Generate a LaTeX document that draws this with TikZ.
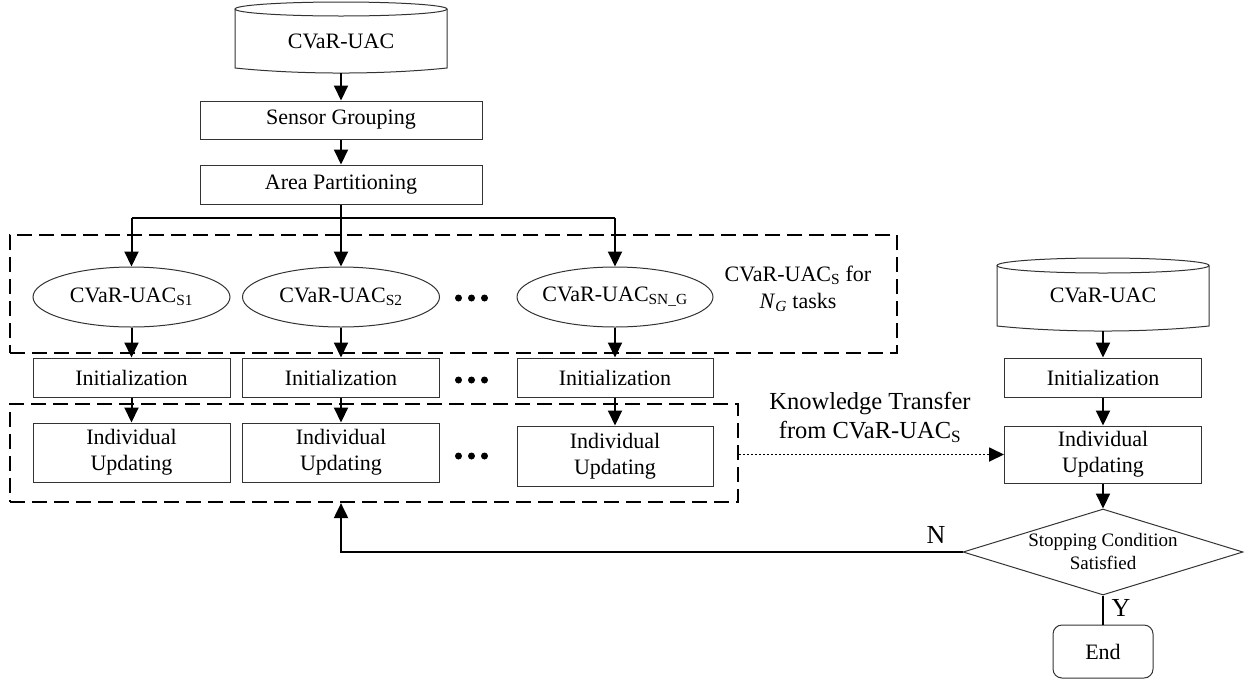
\documentclass[tikz,border=0pt]{standalone}
\usepackage{fontspec}
\setmainfont{Liberation Serif}
\usetikzlibrary{arrows.meta,shapes.geometric}
\begin{document}
\begin{tikzpicture}[x=1pt,y=-1pt,
  txt/.style={font=\fontsize{22}{26}\selectfont, align=center, inner sep=0pt},
  box/.style={txt, draw=black!80, line width=1pt, rectangle},
  ell/.style={txt, draw=black!80, line width=1pt, ellipse, minimum width=197pt, minimum height=60pt},
  arr/.style={line width=2pt, -{Triangle[width=14pt,length=15pt]}},
  ln/.style={line width=2pt},
  dotarr/.style={line width=1.8pt, dash pattern=on 2pt off 2pt, -{Triangle[width=14pt,length=15pt]}},
  grp/.style={draw, line width=2.2pt, dash pattern=on 15pt off 7pt, inner sep=0pt},
  decision/.style={draw=black!80, line width=1pt, diamond, inner sep=0pt, minimum width=280pt, minimum height=86pt},
  endbox/.style={box, rounded corners=9pt, minimum width=100pt, minimum height=53pt},
  cylline/.style={draw=black!80, line width=1pt}
]
\useasboundingbox (0,0) rectangle (1249,681);

% left cylinder
\draw[cylline] (341,9) ellipse [x radius=106, y radius=7];
\draw[cylline] (235,9) -- (235,68) .. controls (300,74.7) and (382,74.7) .. (447,68) -- (447,9);
\node[txt, minimum width=212pt, minimum height=64pt] (cyl1) at (341,41) {CVaR-UAC};

\node[box, minimum width=282pt, minimum height=38pt] (sg) at (341,120) {Sensor Grouping};
\node[box, minimum width=282pt, minimum height=39pt] (ap) at (341,184.5) {Area Partitioning};
\coordinate (br) at (341,218);

% group 1
\node[grp, minimum width=887pt, minimum height=118pt] (grp1) at (453.5,294) {};
\node[ell] (e1) at (131.5,297) {\makebox[0pt]{CVaR-UAC\textsubscript{S1}}};
\node[ell] (e2) at (341,297) {\makebox[0pt]{CVaR-UAC\textsubscript{S2}}};
\node[ell, minimum width=196pt] (e3) at (615,297) {\makebox[0pt]{CVaR-UAC\textsubscript{SN\_G}}};
\node[txt, font=\fontsize{22}{27}\selectfont] (lab) at (798,288.5) {CVaR-UAC\textsubscript{S} for\\\textit{N}\textsubscript{\textit{G}} tasks};

% initialization row
\node[box, minimum width=197pt, minimum height=39pt] (init1) at (131.5,377.5) {Initialization};
\node[box, minimum width=197pt, minimum height=39pt] (init2) at (341,377.5) {Initialization};
\node[box, minimum width=196pt, minimum height=39pt] (init3) at (615,377.5) {Initialization};

% group 2
\node[grp, minimum width=728pt, minimum height=98pt] (grp2) at (374,453) {};
\node[box, minimum width=197pt, minimum height=59pt] (iu1) at (131.5,452.5) {Individual\\Updating};
\node[box, minimum width=197pt, minimum height=59pt] (iu2) at (341,452.5) {Individual\\Updating};
\node[box, minimum width=196pt, minimum height=60pt] (iu3) at (615,456) {Individual\\Updating};

% dots
\foreach \yy in {298,380,456} {
  \foreach \xx in {458.5,471.5,484.5} {
    \fill (\xx,\yy) circle [radius=3.5];
  }
}

% knowledge transfer label
\node[txt, font=\fontsize{24.5}{29}\selectfont] (kt) at (870,417.5) {Knowledge Transfer\\from CVaR-UAC\textsubscript{S}};

% right column
\draw[cylline] (1103,265.5) ellipse [x radius=106, y radius=7.5];
\draw[cylline] (997,265.5) -- (997,326) .. controls (1062,332.7) and (1144,332.7) .. (1209,326) -- (1209,265.5);
\node[txt, minimum width=212pt, minimum height=72pt] (rcyl) at (1103,295) {CVaR-UAC};
\node[box, minimum width=197pt, minimum height=39pt] (rinit) at (1103,377.5) {Initialization};
\node[box, minimum width=197pt, minimum height=57pt] (riu) at (1103,454.5) {Individual\\Updating};
\node[decision] (dia) at (1103,552) {};
\node[txt, font=\fontsize{19}{23}\selectfont] (diat) at (1103,551.5) {Stopping Condition\\Satisfied};
\node[endbox] (endn) at (1103,651.5) {End};
\node[txt, font=\fontsize{26}{30}\selectfont] (nlab) at (936,535) {N};
\node[txt, font=\fontsize{26}{30}\selectfont] (ylab) at (1121,608) {Y};

% connectors
\draw[arr] (cyl1) -- (sg);
\draw[arr] (sg) -- (ap);
\draw[ln] (ap.south) -- (br);
\draw[ln] (br -| e1) -- (br -| e3);
\draw[arr] (br -| e1) -- (e1.north);
\draw[arr] (br) -- (e2.north);
\draw[arr] (br -| e3) -- (e3.north);
\draw[arr] (e1) -- (init1);
\draw[arr] (e2) -- (init2);
\draw[arr] (e3) -- (init3);
\draw[arr] (init1) -- (iu1);
\draw[arr] (init2) -- (iu2);
\draw[arr] (init3) -- (iu3);
\draw[dotarr] (grp2.east |- riu) -- (riu.west);
\draw[arr] (rcyl) -- (rinit);
\draw[arr] (rinit) -- (riu);
\draw[arr] (riu) -- (dia);
\draw[line width=1.5pt] (dia) -- (endn);
\draw[arr] (dia.west) -| (iu2 |- grp2.south);
\end{tikzpicture}
\end{document}
